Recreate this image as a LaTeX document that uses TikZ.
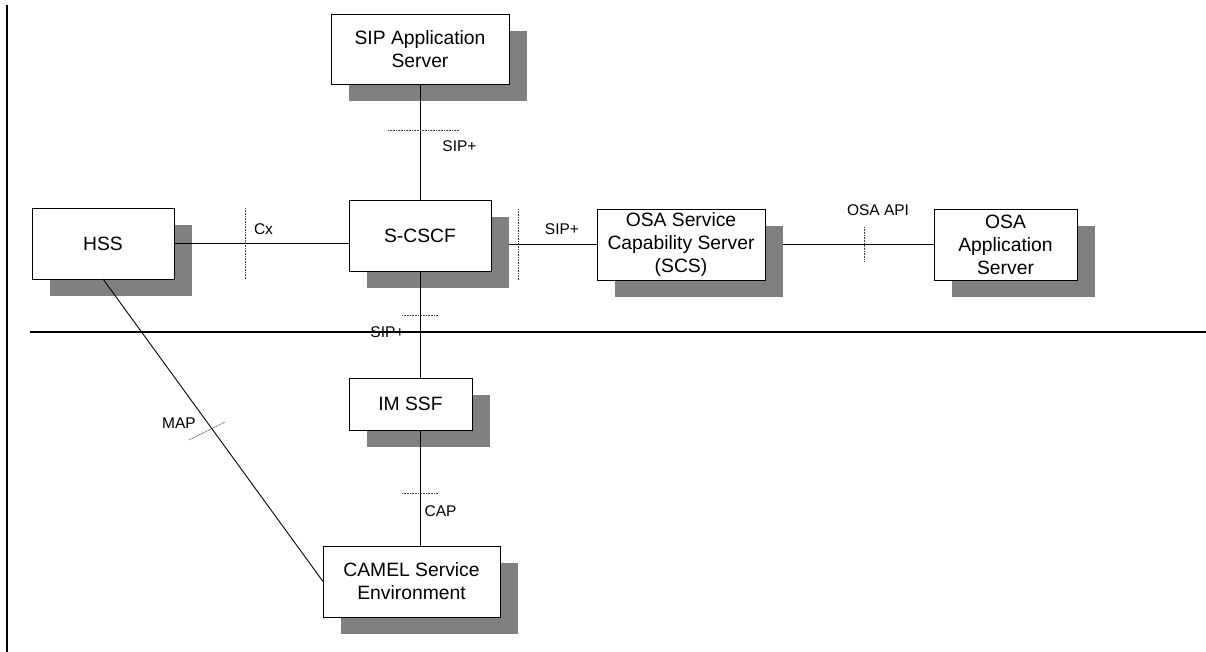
\documentclass[tikz,border=0pt]{standalone}
\usepackage{fontspec}
\setmainfont{Liberation Sans}
\usetikzlibrary{shadows,calc}
\definecolor{shadowgray}{RGB}{128,128,128}
\tikzset{
  entity/.style={draw=black, line width=0.9pt, fill=white, inner sep=0pt, outer sep=0pt,
    align=center, font=\fontsize{19.3}{23}\selectfont,
    drop shadow={shadow xshift=18pt, shadow yshift=-17pt, fill=shadowgray, opacity=1}},
  link/.style={draw=black, line width=0.9pt},
  refpoint/.style={draw=black!75, line width=0.6pt, dash pattern=on 1pt off 0.6pt},
  iflabel/.style={inner sep=0pt, font=\fontsize{15.5}{18}\selectfont},
  divider/.style={draw=black, line width=1.2pt}
}
\begin{document}
\begin{tikzpicture}[x=1pt,y=-1pt]
\useasboundingbox (0,0) rectangle (1206,652);

% frame edge and domain separator
\draw[divider, line width=2pt] (7,5) -- (7,652);
\draw[divider] (30,332) -- (1206,332);

% functional entities
\node[entity, minimum width=178pt, minimum height=70pt] (sipas) at (420,49) {SIP Application\\Server};
\node[entity, minimum width=142pt, minimum height=71pt] (hss) at (103,243.5) {HSS};
\node[entity, minimum width=142pt, minimum height=71pt] (scscf) at (420,235.5) {S-CSCF};
\node[entity, minimum width=168pt, minimum height=71pt] (scs) at (681,244.5) {OSA Service\\Capability Server\\(SCS)};
\node[entity, minimum width=143pt, minimum height=71pt] (osaas) at (1005.5,244.5) {OSA\\Application\\Server};
\node[entity, minimum width=123pt, minimum height=52pt] (imssf) at (410.5,404) {IM SSF};
\node[entity, minimum width=177pt, minimum height=71pt] (camel) at (411.5,581.5) {CAMEL Service\\Environment};

% interfaces
\draw[link] (sipas.south) -- (scscf.north);
\draw[link] (hss.east) -- (hss.east -| scscf.west);
\draw[link] ([xshift=18pt]scscf.east |- scs.west) -- (scs.west);
\draw[link] ([xshift=18pt]scs.east) -- (osaas.west);
\draw[link] (scscf.south) -- (scscf.south |- imssf.north);
\draw[link] (scscf.south |- imssf.south) -- (scscf.south |- camel.north);
\draw[link] (hss.south) -- (camel.west);

% reference point markers
\draw[refpoint] (388,130) -- (459,130);
\draw[refpoint] (245,208) -- (245,279);
\draw[refpoint] (518,209) -- (518,280);
\draw[refpoint] (864,227) -- (864,262);
\draw[refpoint] (402,315) -- (438,315);
\draw[refpoint] (402,493) -- (438,493);
\draw[refpoint] (189,440) -- (225,422);

% interface names
\node[iflabel] (lsip1) at (459.5,146) {SIP+};
\node[iflabel] (lcx) at (263.5,229) {Cx};
\node[iflabel] (lsip2) at (562,229) {SIP+};
\node[iflabel] (lapi) at (878,210) {OSA API};
\node[iflabel] (lsip3) at (387.5,332) {SIP+};
\node[iflabel] (lcap) at (440.5,511) {CAP};
\node[iflabel] (lmap) at (179,423) {MAP};
\end{tikzpicture}
\end{document}
